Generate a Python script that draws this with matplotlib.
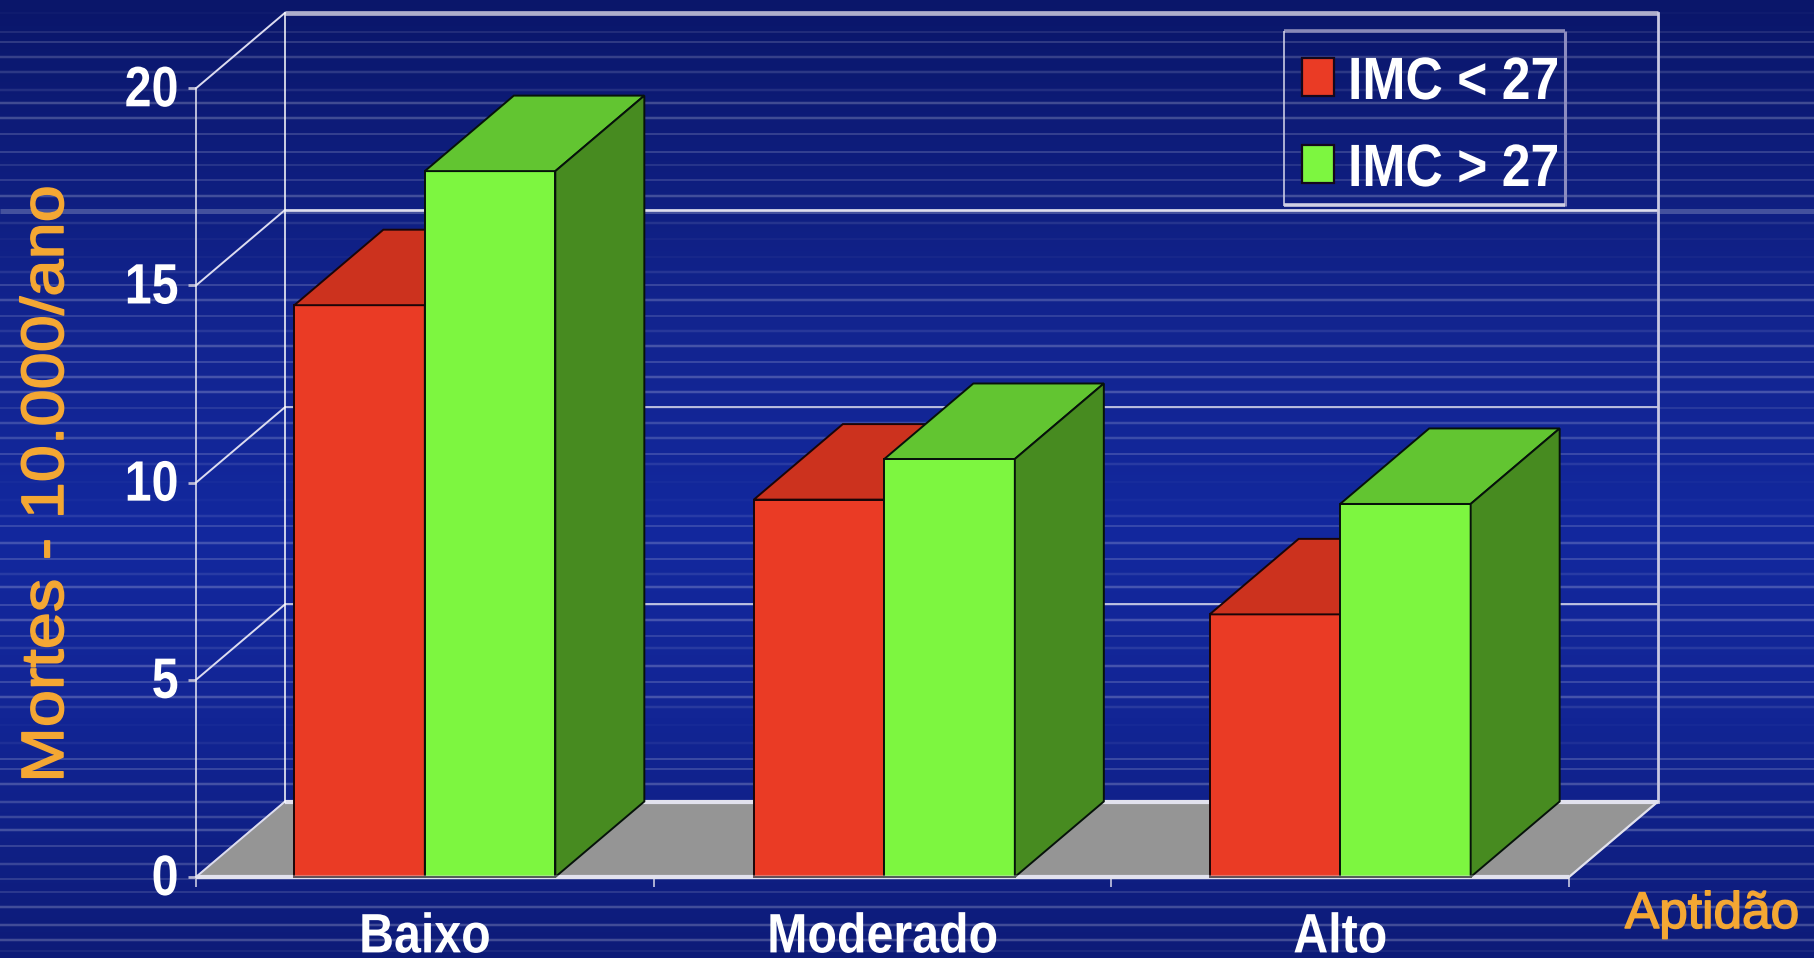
import numpy as np
import matplotlib
matplotlib.use("Agg")
import matplotlib.pyplot as plt
import matplotlib.patheffects as pe
from matplotlib.colors import LinearSegmentedColormap
from matplotlib.patches import Rectangle
from matplotlib.transforms import Affine2D, ScaledTranslation

# chart values
categories = ["Baixo", "Moderado", "Alto"]
bar_pos = [0, 1.004, 2]
imc_menor = [14.5, 9.57, 6.66]
imc_maior = [17.9, 10.6, 9.46]
y_ticks = [0, 5, 10, 15, 20]
legend_labels = ["IMC < 27", "IMC > 27"]

# background stripes (pixel row, strength, thickness)
stripe_y = [13, 32, 42, 57, 72, 90, 103, 118, 134, 152, 165, 180, 196, 211, 223, 239, 257, 272, 285,
            300, 316, 331, 346, 362, 377, 392, 408, 423, 438, 454, 464, 482, 500, 516, 526, 543, 559,
            574, 587, 605, 620, 636, 648, 666, 682, 697, 707, 725, 743, 759, 769, 784, 802, 817, 830,
            846, 864, 879, 892, 907, 925, 940, 951]
stripe_a = [.03, .12, .25, .22, .17, .12, .27, .27, .27, .27, .17, .22, .27, .28, .12, .05, .05, .12, .27,
            .25, .22, .12, .27, .27, .27, .27, .12, .22, .22, .27, .12, .03, .03, .12, .25, .25, .27,
            .12, .27, .27, .27, .22, .12, .27, .27, .27, .12, .03, .07, .22, .27, .27, .22, .22, .27,
            .27, .22, .22, .20, .27, .27, .27, .10]
stripe_w = [2, 2, 1.5, 2.5, 2.5, 2.5, 2.5, 2.5, 1.5, 1.5, 1.5, 1.5, 2.5, 5, 2.5, 1.5, 1.5, 2.5, 1.5,
            2.5, 1.5, 2.5, 2.5, 1.5, 2.5, 2.5, 2, 2.5, 2.5, 1.5, 2.5, 2, 2.5, 2.5, 1.5, 2.5, 1.5,
            2.5, 2.5, 1.5, 2.5, 1.5, 2.5, 2.5, 1.5, 2.5, 2.5, 2, 2.5, 2, 1.5, 2.5, 2.5, 2.5, 2.5,
            1.5, 2.5, 1.5, 1.5, 2.5, 2.5, 2.5, 1.5]

W, H = 1814, 958
fig = plt.figure(figsize=(W / 100, H / 100), dpi=100)


# no narrow font is installed, so text is squeezed/stretched around an anchor when it is drawn
class Stretch(pe.AbstractPathEffect):
    def __init__(self, ax_=0, ay_=0, sx=1, sy=1, stroke=0):
        super().__init__()
        self.tr = Affine2D().translate(-ax_, -ay_).scale(sx, sy).translate(ax_, ay_)
        self.stroke = stroke

    def draw_path(self, renderer, gc, tpath, affine, rgbFace=None):
        gc0 = renderer.new_gc()
        gc0.copy_properties(gc)
        if self.stroke:
            gc0.set_linewidth(self.stroke)
            gc0.set_foreground(rgbFace)
        renderer.draw_path(gc0, tpath, affine + self.tr, rgbFace)
        gc0.restore()


# gradient + stripes, in pixel units
bg = fig.add_axes([0, 0, 1, 1])
bg.set_xlim(0, W)
bg.set_ylim(H, 0)
bg.axis("off")
cmap = LinearSegmentedColormap.from_list("fundo", [(0, "#0a166a"), (.33, "#12248f"), (.55, "#12289e"),
                                                  (.75, "#122595"), (1, "#0d1b78")])
bg.imshow(np.linspace(0, 1, 256).reshape(-1, 1), cmap=cmap, aspect="auto", extent=[0, W, H, 0], zorder=0)
for yy, aa, ww in zip(stripe_y, stripe_a, stripe_w):
    bg.plot([0, W], [yy, yy], color="white", alpha=aa * .8, lw=ww * .72, solid_capstyle="butt", zorder=1)

# chart axes: front plane of the 3D box
x0, x1, y0, y1 = 196, 1569, 877, 88.3
ax = fig.add_axes([x0 / W, 1 - y0 / H, (x1 - x0) / W, (y0 - y1) / H])
ax.patch.set_alpha(0)
ax.set_xlim(-.5, 2.5)
ax.set_ylim(0, 20)

unit_x = (x1 - x0) / 3
unit_y = (y0 - y1) / 20
dx = 89 / unit_x   # box depth
dy = 75.5 / unit_y
bw = 130.5 / unit_x

line = "#e6e6f2"

# floor
ax.fill([-.5, 2.5, 2.5 + dx, -.5 + dx], [0, 0, dy, dy], color="#959595", zorder=1, clip_on=False)
ax.plot([-.5 + dx, 2.5 + dx], [dy, dy], color="#e2e2ee", lw=3, zorder=2, clip_on=False, solid_capstyle="butt")
ax.plot([-.5, 2.5], [0, 0], color="#e2e2ee", lw=3, zorder=2, clip_on=False, solid_capstyle="butt")

# walls
for t in y_ticks:
    if t == 0:
        lw_g, c_g = 0, line
    elif t == 20:
        lw_g, c_g = 3.4, "#aeaecb"
    elif t == 15:
        lw_g, c_g = 1.9, "#dedeee"
    else:
        lw_g, c_g = 1.1, line
    if lw_g:
        ax.plot([-.5 + dx, 2.5 + dx], [t + dy, t + dy], color=c_g, lw=lw_g, zorder=2, clip_on=False,
                solid_capstyle="butt")
    ax.plot([-.5, -.5 + dx], [t, t + dy], color="#dcdcf0", lw=1.4, zorder=2, clip_on=False)
ax.plot([-.5 + dx, -.5 + dx], [dy, 20 + dy], color="white", lw=1.1, zorder=2, clip_on=False)
ax.plot([2.5 + dx, 2.5 + dx], [dy, 20 + dy], color="#c8c8e2", lw=2, zorder=2, clip_on=False)
ax.plot([2.5, 2.5 + dx], [0, dy], color="#e2e2ee", lw=1.6, zorder=2, clip_on=False)


def bar3d(left, h, front, top, side, edge, z):
    ax.bar(left, h, bw, align="edge", color=front, edgecolor=edge, linewidth=1.4, zorder=z, clip_on=False)
    ax.fill([left, left + bw, left + bw + dx, left + dx], [h, h, h + dy, h + dy], facecolor=top,
            edgecolor=edge, linewidth=1.4, zorder=z, clip_on=False)
    ax.fill([left + bw, left + bw + dx, left + bw + dx, left + bw], [0, dy, h + dy, h], facecolor=side,
            edgecolor=edge, linewidth=1.4, zorder=z, clip_on=False)


for i in range(len(categories)):
    bar3d(bar_pos[i] - bw, imc_menor[i], "#ea3b25", "#cc321e", "#a82a18", "#1a0508", 3 + i * 2)
    bar3d(bar_pos[i], imc_maior[i], "#7df640", "#62c531", "#478b20", "#06120a", 4 + i * 2)
ax.plot([-.5, 2.5], [0, 0], color="#e2e2ee", alpha=.35, lw=3, zorder=12, clip_on=False, solid_capstyle="butt")

font = "Liberation Sans"

# axes, ticks
for s in ["top", "right", "bottom"]:
    ax.spines[s].set_visible(False)
ax.spines["left"].set_color("#e8e8f4")
ax.spines["left"].set_linewidth(1.1)
ax.set_yticks(y_ticks)
ax.set_yticklabels(y_ticks, family=font, fontweight="bold", fontsize=41, color="white")
ax.tick_params(axis="y", length=5.5, width=2, color="#b4b4d0", pad=7)
up = ScaledTranslation(0, 3 / 100, fig.dpi_scale_trans)
for lbl in ax.get_yticklabels():
    lbl.set_transform(lbl.get_transform() + up)
    lbl.set_path_effects([Stretch(ax_=178.5, sx=.85)])
ax.set_xticks([-.5, .5, 1.5, 2.5])
ax.set_xticklabels([])
ax.tick_params(axis="x", length=7, width=1.1, color="#d8d8ea")
ax.set_xticks(range(len(categories)), minor=True)
ax.set_xticklabels(categories, minor=True, family=font, fontweight="bold", fontsize=40, color="white")
ax.tick_params(axis="x", which="minor", length=0, pad=25.5)
for i, lbl in enumerate(ax.get_xticklabels(minor=True)):
    lbl.set_path_effects([Stretch(ax_=x0 + (i + .5) * unit_x, sx=.87)])

# axis titles
orange = "#f4a733"
bg.text(63, 483.5, "Mortes - 10.000/ano", rotation=90, rotation_mode="anchor", ha="center", va="baseline",
        family=font, fontsize=43, color=orange, zorder=5,
        path_effects=[Stretch(ay_=H - 483.5, sy=1.118, stroke=1.1)])
bg.text(1712, 928, "Aptidão", ha="center", va="baseline", family=font, fontsize=37, color=orange, zorder=5,
        path_effects=[Stretch(stroke=1.1)])

# legend
bg.plot([1284, 1565], [31, 31], color="#8a8ab8", lw=2.6, zorder=5, solid_capstyle="butt")
bg.plot([1565, 1565], [31, 206], color="#8c8cc0", lw=2.2, zorder=5, solid_capstyle="butt")
bg.plot([1284, 1284], [31, 206], color="#d8d8ec", lw=1.1, zorder=5, solid_capstyle="butt")
ax2 = fig.add_axes([0, 0, 1, 1])
ax2.set_xlim(0, W)
ax2.set_ylim(H, 0)
ax2.axis("off")
ax2.plot([1284, 1565], [205, 205], color="#d0d0e4", lw=2.6, solid_capstyle="butt")
for yy, col, lab in zip([58, 145], ["#ea3b25", "#7df640"], legend_labels):
    ax2.add_patch(Rectangle((1302, yy), 32, 38, facecolor=col, edgecolor="#14081c", linewidth=1.6))
    ax2.text(1348, yy + 41, lab, ha="left", va="baseline", family=font, fontweight="bold", fontsize=43,
             color="white", path_effects=[Stretch(ax_=1348, sx=.866)])

fig.savefig("out.png", dpi=100)
